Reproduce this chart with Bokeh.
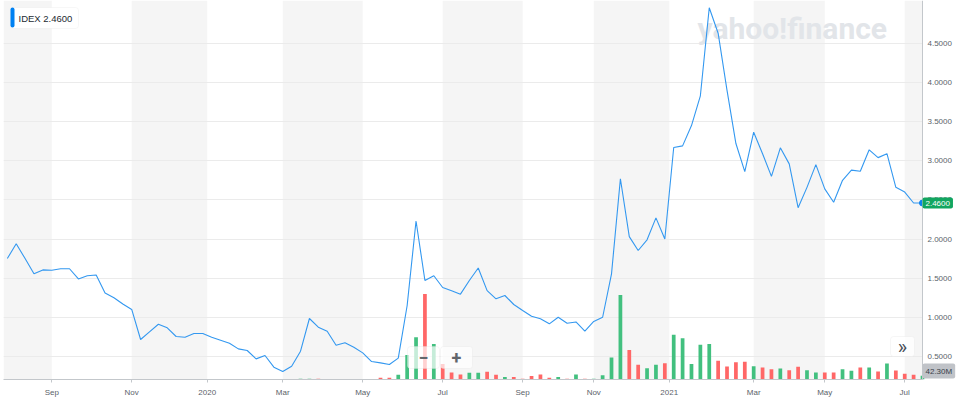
from bokeh.plotting import figure
from bokeh.models import Range1d, FixedTicker, NumeralTickFormatter, Label, BoxAnnotation, ColumnDataSource
from bokeh.embed import file_html
from bokeh.resources import INLINE

symbol = "IDEX"

# weekly index (Aug 2019 .. Jul 2021)
week = list(range(-1, 103))

price = [1.75, 1.94, 1.75, 1.555, 1.605, 1.60, 1.62, 1.62, 1.49, 1.53,
         1.54, 1.31, 1.25, 1.17, 1.10, 0.716, 0.814, 0.911, 0.865, 0.754,
         0.745, 0.792, 0.792, 0.745, 0.707, 0.668, 0.596, 0.575, 0.468, 0.511,
         0.362, 0.307, 0.375, 0.566, 0.984, 0.873, 0.822, 0.643, 0.673, 0.617,
         0.545, 0.434, 0.417, 0.396, 0.477, 1.15, 2.23, 1.47, 1.53, 1.38,
         1.34, 1.295, 1.47, 1.63, 1.34, 1.236, 1.278, 1.163, 1.086, 1.013,
         0.98, 0.916, 1.0, 0.924, 0.94, 0.822, 0.946, 1.0, 1.555, 2.77,
         2.03, 1.853, 1.99, 2.27, 2.0, 3.17, 3.19, 3.45, 3.83, 4.955,
         4.63, 3.90, 3.22, 2.86, 3.365, 3.09, 2.80, 3.165, 2.96, 2.40,
         2.66, 2.95, 2.64, 2.47, 2.75, 2.88, 2.865, 3.14, 3.04, 3.09,
         2.66, 2.60, 2.46, 2.46]

# weekly volume, millions
volume_m = [4, 6, 5, 4, 6, 4, 3, 3, 4, 3,
            3, 4, 3, 3, 4, 7, 4, 4, 3, 3,
            3, 3, 2, 3, 3, 3, 3, 4, 4, 3,
            5, 5, 4, 10, 10, 9, 5, 4, 5, 4,
            4, 5, 21, 21, 55, 282, 486, 983, 408, 178,
            80, 58, 77, 77, 89, 55, 29, 29, 9, 40,
            58, 21, 29, 9, 58, 9, 9, 48, 253, 972,
            339, 169, 130, 169, 187, 514, 475, 179, 399, 409,
            216, 150, 197, 204, 153, 138, 118, 127, 107, 146,
            107, 81, 81, 81, 118, 100, 138, 138, 92, 184,
            104, 66, 54, 42.3]

tick_pos = [4, 13, 21.5, 30, 39, 48, 57, 65, 73.5, 83, 91, 100]
tick_labels = ["Sep", "Nov", "2020", "Mar", "May", "Jul", "Sep", "Nov", "2021", "Mar", "May", "Jul"]
y_ticks = [0.5, 1.0, 1.5, 2.0, 2.5, 3.0, 3.5, 4.0, 4.5]

UP, DOWN = "#42c07f", "#ff6767"
colors = [UP] + [UP if price[i] >= price[i - 1] else DOWN for i in range(1, len(price))]

FL = 3                 # frame left on page
FW, FH = 958, 379
PX_PER_WEEK = 8.885
x_start = -1.43
x_end = week[-1] + 39 / PX_PER_WEEK      # room right of the price axis for its labels
y_start, y_end = 0.2045, 5.048


def sx(page_x):
    return page_x - FL


def sy(page_y):
    return FH - page_y


p = figure(frame_width=FW, frame_height=FH, output_backend="svg", toolbar_location=None,
           x_range=Range1d(x_start, x_end), y_range=Range1d(y_start, y_end),
           y_axis_location="right", min_border_left=FL, min_border_top=0,
           min_border_right=0, min_border_bottom=22)
p.outline_line_color = None
p.background_fill_color = "white"
p.border_fill_color = "white"
p.extra_y_ranges = {"vol": Range1d(0, FH * 11.5)}

# alternating two-month bands
edges = [x_start] + tick_pos + [week[-1]]
p.quad(left=edges[0::2], right=edges[1::2], bottom=y_start, top=y_end,
       fill_color="#f5f5f5", line_color=None, level="image")

# grid / axes
p.xgrid.visible = False
p.ygrid.ticker = FixedTicker(ticks=y_ticks)
p.ygrid.grid_line_color = "#ebebeb"
# keep the area right of the price axis white (covers grid lines there)
p.add_layout(BoxAnnotation(left=week[-1], fill_color="white", fill_alpha=1,
                           line_color=None, level="underlay"))

p.yaxis.fixed_location = week[-1]
p.yaxis.ticker = FixedTicker(ticks=y_ticks)
p.yaxis.formatter = NumeralTickFormatter(format="0.0000")
p.yaxis.axis_line_color = "#c3c7cb"
p.yaxis.major_tick_out = 0
p.yaxis.major_tick_in = 0
p.yaxis.minor_tick_line_color = None
p.yaxis.major_label_standoff = 5
p.yaxis.major_label_text_font = "Liberation Sans"
p.yaxis.major_label_text_font_size = "8px"
p.yaxis.major_label_text_color = "#5b636a"

p.xaxis.ticker = FixedTicker(ticks=tick_pos)
p.xaxis.bounds = (x_start, week[-1])
p.xaxis.major_label_overrides = {t: l for t, l in zip(tick_pos, tick_labels)}
p.xaxis.axis_line_color = "#c3c7cb"
p.xaxis.major_tick_line_color = "#c3c7cb"
p.xaxis.major_tick_out = 3
p.xaxis.major_tick_in = 0
p.xaxis.minor_tick_line_color = None
p.xaxis.major_label_standoff = 5
p.xaxis.major_label_text_font = "Liberation Sans"
p.xaxis.major_label_text_font_size = "8px"
p.xaxis.major_label_text_color = "#5b636a"

# watermark
p.add_layout(Label(x=sx(697), y=sy(28), x_units="screen", y_units="screen",
                   text="yahoo!finance", text_font="Roboto", text_font_style="bold",
                   text_font_size="30px", text_color="#e2e5e9", text_baseline="alphabetic",
                   level="underlay"))

src = ColumnDataSource(dict(week=week, price=price, volume=volume_m, color=colors))
p.vbar(x="week", top="volume", width=0.42, fill_color="color", line_color=None,
       y_range_name="vol", source=src)
p.line(x="week", y="price", line_color="#3398f0", line_width=1.1, source=src)
p.scatter(x=[week[-1]], y=[price[-1]], size=6, color="#0b82f0")

SCREEN = dict(left_units="screen", right_units="screen", bottom_units="screen", top_units="screen")

# legend box
p.add_layout(BoxAnnotation(left=sx(10), right=sx(78), bottom=sy(28), top=sy(7), **SCREEN,
                           fill_color="white", fill_alpha=1, line_color="#e3e3e3",
                           border_radius=3))
p.add_layout(BoxAnnotation(left=sx(10), right=sx(14), bottom=sy(27), top=sy(7), **SCREEN,
                           fill_color="#0081f2", fill_alpha=1, line_color=None,
                           border_radius=2))
p.add_layout(Label(x=sx(18), y=sy(17.5), x_units="screen", y_units="screen",
                   text=f"{symbol}  {price[-1]:.4f}", text_font="Liberation Sans",
                   text_font_size="9.5px", text_color="#232a31", text_baseline="middle"))

# zoom buttons
for left, right, glyph in [(407, 439, "\u2212"), (440, 472, "+")]:
    p.add_layout(BoxAnnotation(left=sx(left), right=sx(right), bottom=sy(368), top=sy(346), **SCREEN,
                               fill_color="white", fill_alpha=0.7, line_color="#e0e0e0",
                               border_radius=3))
    p.add_layout(Label(x=sx((left + right) / 2), y=sy(357), x_units="screen", y_units="screen",
                       text=glyph, text_font="Roboto", text_font_style="bold",
                       text_font_size="18px", text_color="#62666b",
                       text_align="center", text_baseline="middle"))
p.add_layout(BoxAnnotation(left=sx(890), right=sx(914), bottom=sy(356), top=sy(336), **SCREEN,
                           fill_color="white", fill_alpha=0.8, line_color="#e0e0e0",
                           border_radius=3))
p.add_layout(Label(x=sx(902), y=sy(346), x_units="screen", y_units="screen",
                   text="\u00bb", text_font="Roboto", text_font_size="20px", text_color="#464e56",
                   text_align="center", text_baseline="middle"))

# badges at the price axis
p.add_layout(Label(x=week[-1], y=price[-1], text=f"{price[-1]:.4f}", x_offset=0,
                   text_align="left", text_baseline="middle", text_font="Liberation Sans",
                   text_font_size="8px", text_color="white",
                   background_fill_color="#12a660", background_fill_alpha=1,
                   padding=3, border_radius=2))
p.add_layout(Label(x=week[-1], y=0, y_range_name="vol", text=f"{volume_m[-1]:.2f}M", x_offset=0,
                   y_offset=1, text_align="left", text_baseline="bottom", text_font="Liberation Sans",
                   text_font_size="8px", text_color="#39424a",
                   background_fill_color="#c0c3c8", background_fill_alpha=1,
                   padding=3, border_radius=2))

open("out.html", "w").write(file_html(p, INLINE))
